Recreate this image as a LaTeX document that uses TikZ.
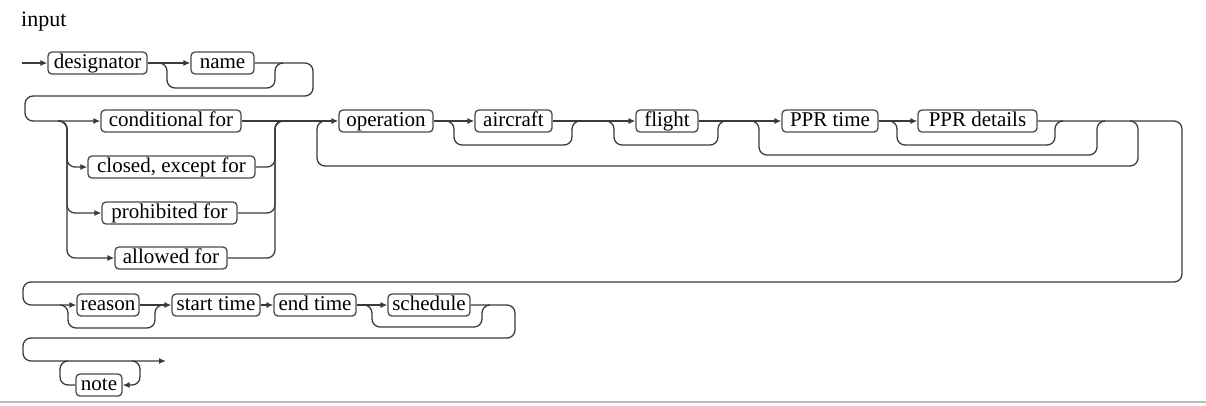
\documentclass[tikz,border=0pt]{standalone}
\usepackage{fontspec}
\setmainfont{Liberation Serif}
\usetikzlibrary{arrows.meta}
\definecolor{railc}{HTML}{3A3A3A}
\definecolor{boxc}{HTML}{4A4A4A}
\definecolor{sepc}{HTML}{BBBBBB}
\newcommand\myboxfont{\fontsize{21}{22}\selectfont}
\newcommand\mytitlefont{\fontsize{22}{24}\selectfont}
\tikzset{
  rail/.style={draw=railc, line width=1.3pt, rounded corners=8pt},
  arr/.style={-{Latex[length=7pt,width=6pt]}},
  tbox/.style={draw=boxc, line width=1.3pt, rounded corners=4pt, fill=white,
    minimum height=22pt, inner sep=0pt, text height=14pt, text depth=4pt,
    font=\myboxfont, text=black, anchor=center},
}
\begin{document}
\begin{tikzpicture}[x=1pt,y=-1pt]
\useasboundingbox (0,0) rectangle (1206,405);
\node[anchor=base west, font=\mytitlefont, inner sep=0pt] (title) at (21,26) {input};
% row 1
\coordinate (s0) at (22,63);
\node[tbox, minimum width=99pt] (designator) at (97.5,63) {designator};
\node[tbox, minimum width=63pt] (name) at (222.5,63) {name};
% row 2 alternatives
\node[tbox, minimum width=140pt] (cond) at (171,121) {conditional for};
\node[tbox, minimum width=167pt] (closed) at (171.5,167) {closed, except for};
\node[tbox, minimum width=135pt] (prohib) at (169.5,213) {prohibited for};
\node[tbox, minimum width=112pt] (allowed) at (171,258) {allowed for};
% row 2 sequence
\node[tbox, minimum width=94pt] (operation) at (386,121) {operation};
\node[tbox, minimum width=77pt] (aircraft) at (513.5,121) {aircraft};
\node[tbox, minimum width=62pt] (flight) at (667,121) {flight};
\node[tbox, minimum width=96pt] (pprtime) at (830,121) {PPR time};
\node[tbox, minimum width=119pt] (pprdet) at (977.5,121) {PPR details};
% row 3
\node[tbox, minimum width=62pt] (reason) at (108,305) {reason};
\node[tbox, minimum width=88pt] (start) at (216,305) {start time};
\node[tbox, minimum width=82pt] (endt) at (315,305) {end time};
\node[tbox, minimum width=82pt] (sched) at (429,305) {schedule};
% row 4
\node[tbox, minimum width=46pt] (note) at (99,385) {note};
\coordinate (fin) at (166,361);

% connectors row 1
\draw[rail,arr] (s0) -- (designator.west);
\draw[rail,arr] (designator.east) -- (name.west);
\draw[rail] (159,63) -| (167,88) -| (275,63) -- (283,63);
\draw[rail,arr] (name.east) -| (313,96) -| (25,121) -- (cond.west);
% alternatives
\draw[rail,arr] (58,121) -| (67,167) -- (closed.west);
\draw[rail,arr] (58,121) -| (67,213) -- (prohib.west);
\draw[rail,arr] (58,121) -| (67,258) -- (allowed.west);
\draw[rail] (closed.east) -| (275,121) -- (284,121);
\draw[rail] (prohib.east) -| (275,121) -- (284,121);
\draw[rail] (allowed.east) -| (275,121) -- (284,121);
% sequence row 2
\draw[rail,arr] (cond.east) -- (operation.west);
\draw[rail,arr] (operation.east) -- (aircraft.west);
\draw[rail,arr] (aircraft.east) -- (flight.west);
\draw[rail,arr] (flight.east) -- (pprtime.west);
\draw[rail,arr] (pprtime.east) -- (pprdet.west);
\draw[rail] (446,121) -| (454,145) -| (572,121) -- (580,121);
\draw[rail] (606,121) -| (614,145) -| (718,121) -- (726,121);
\draw[rail] (751,121) -| (759,155) -| (1097,121) -- (1105,121);
\draw[rail] (889,121) -| (897,145) -| (1055,121) -- (1063,121);
\draw[rail] (1130,121) -| (1138,166) -| (317,121) -- (325,121);
\draw[rail,arr] (pprdet.east) -| (1182,282) -| (23,305) -- (reason.west);
% row 3
\draw[rail] (60,305) -| (68,328) -| (155,305) -- (163,305);
\draw[rail,arr] (reason.east) -- (start.west);
\draw[rail,arr] (start.east) -- (endt.west);
\draw[rail,arr] (endt.east) -- (sched.west);
\draw[rail] (364,305) -| (372,327) -| (482,305) -- (490,305);
\draw[rail,arr] (sched.east) -| (515,338) -| (23,361) -- (fin);
% row 4
\draw[rail,arr] (132,361) -| (140,385) -- (note.east);
\draw[rail] (note.west) -| (60,361) -- (68,361);
% separator
\draw[sepc, line width=1.5pt] (0,402) -- (1206,402);
\end{tikzpicture}
\end{document}
